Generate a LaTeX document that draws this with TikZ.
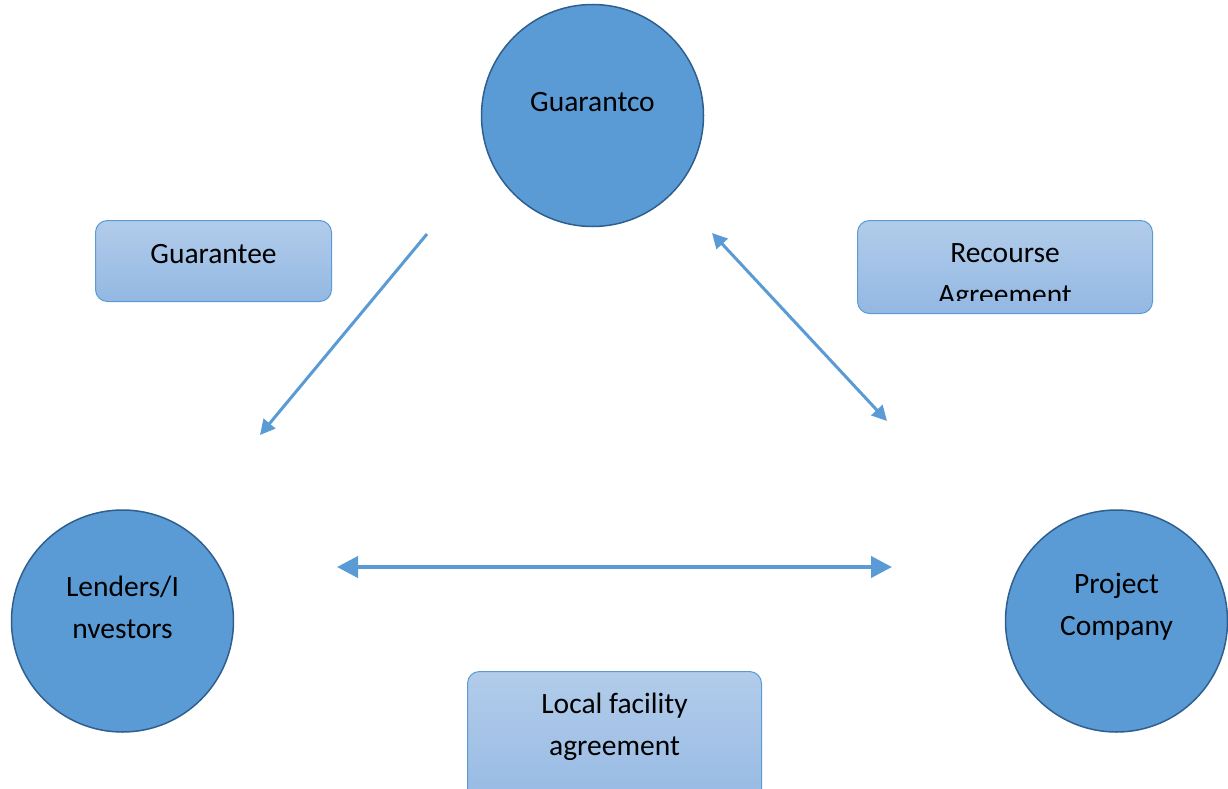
\documentclass[tikz,border=0pt]{standalone}
\usepackage{fontspec}
\setmainfont{Carlito}
\usetikzlibrary{arrows.meta}
\definecolor{circfill}{HTML}{5B9BD5}
\definecolor{circdraw}{HTML}{2F5F8F}
\definecolor{boxtop}{HTML}{B2CCEA}
\definecolor{boxbot}{HTML}{93B8E3}
\definecolor{boxdraw}{HTML}{5B9BD5}
\definecolor{arr}{HTML}{5B9BD5}
\tikzset{
  circ/.style={circle, fill=circfill, draw=circdraw, line width=1.5pt, minimum size=222pt, inner sep=0pt},
  rbox/.style={rounded corners=12pt, top color=boxtop, bottom color=boxbot, draw=boxdraw, line width=1pt},
  lbl/.style={font=\fontsize{29.5}{42}\selectfont, align=center, text=black},
  darr/.style={draw=arr, line width=3pt, -{Triangle[length=15pt,width=15pt]}},
  darr2/.style={draw=arr, line width=3pt, {Triangle[length=15pt,width=15pt]}-{Triangle[length=15pt,width=15pt]}},
  harr/.style={draw=arr, line width=4pt, {Triangle[length=21pt,width=21pt]}-{Triangle[length=21pt,width=21pt]}},
}
\begin{document}
\begin{tikzpicture}[x=1pt,y=-1pt]
\useasboundingbox (0,0) rectangle (1228,789);
\clip (0,0) rectangle (1228,789);
\fill[white] (0,0) rectangle (1228,789);
% circles
\node[circ] (g) at (592.5,115.5) {};
\node[lbl] (gt) at (592.5,102) {Guarantco};
\node[circ] (l) at (122.5,621) {};
\node[lbl] (lt) at (122.5,607) {Lenders/I\\nvestors};
\node[circ] (p) at (1116.5,621) {};
\node[lbl] (pt) at (1116.5,607) {Project\\Company};
% boxes
\path[rbox] (95.5,220.5) rectangle (331.5,301.5);
\node[lbl] (bg) at (213.5,254) {Guarantee};
\path[rbox] (857.5,220.5) rectangle (1152.5,313.5);
\begin{scope}
\clip (857,222) rectangle (1153,300);
\node[lbl] (br) at (1005,277) {Recourse\\Agreement};
\end{scope}
\path[rbox] (467.5,671.5) rectangle (761.5,820);
\node[lbl] (bl) at (614.5,727) {Local facility\\agreement};
% arrows
\coordinate (a1s) at (427,234);
\coordinate (a1e) at (260,435);
\coordinate (a2s) at (712,233);
\coordinate (a2e) at (887,421);
\coordinate (a3s) at (337,567);
\coordinate (a3e) at (892,567);
\draw[darr] (a1s) -- (a1e);
\draw[darr2] (a2s) -- (a2e);
\draw[harr] (a3s) -- (a3e);
\end{tikzpicture}
\end{document}
